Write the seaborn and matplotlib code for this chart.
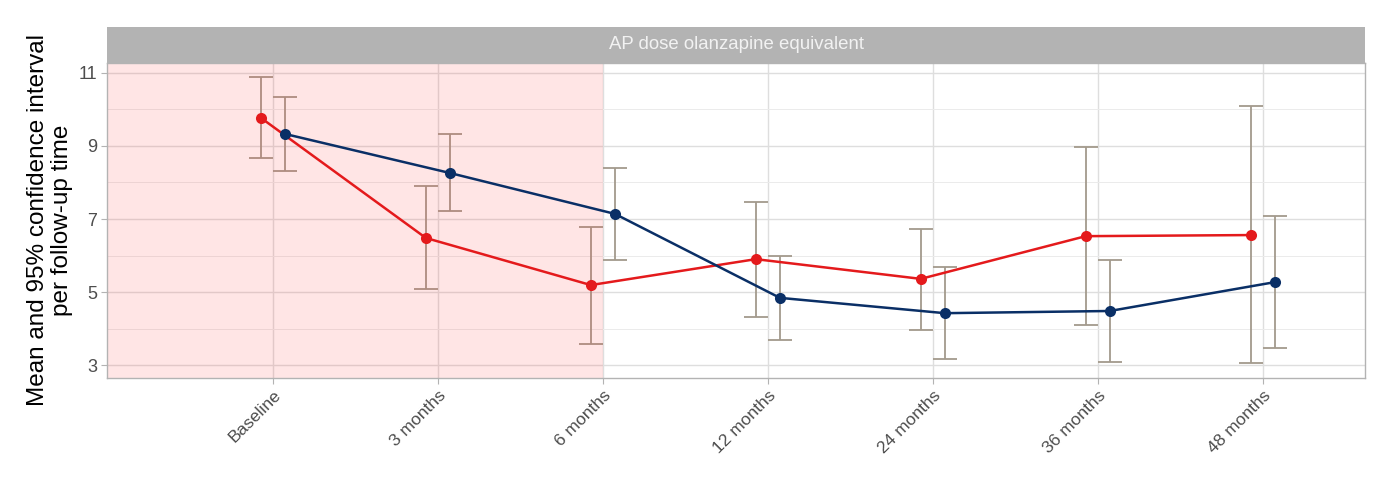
import numpy as np
import pandas as pd
import matplotlib
matplotlib.use("Agg")
import matplotlib.pyplot as plt
import seaborn as sns

# follow-up times
times = ["Baseline", "3 months", "6 months", "12 months", "24 months", "36 months", "48 months"]

# group 1 (red)
red_mean = [9.77, 6.48, 5.19, 5.90, 5.36, 6.53, 6.56]
red_lo = [8.67, 5.08, 3.58, 4.32, 3.96, 4.10, 3.05]
red_hi = [10.89, 7.90, 6.78, 7.47, 6.73, 8.97, 10.10]

# group 2 (navy)
navy_mean = [9.33, 8.26, 7.14, 4.84, 4.42, 4.48, 5.27]
navy_lo = [8.32, 7.22, 5.88, 3.68, 3.16, 3.08, 3.47]
navy_hi = [10.34, 9.33, 8.40, 5.99, 5.68, 5.88, 7.08]

groups = ["Group 1", "Group 2"]
colors = {"Group 1": "#e41a1c", "Group 2": "#0a2f66"}
dodge = {"Group 1": -0.073, "Group 2": 0.073}

rows = []
for g, m, lo, hi in [("Group 1", red_mean, red_lo, red_hi), ("Group 2", navy_mean, navy_lo, navy_hi)]:
    for i, t in enumerate(times):
        rows.append({"time": t, "idx": i, "group": g, "mean": m[i], "lo": lo[i], "hi": hi[i]})
df = pd.DataFrame(rows)
df["xpos"] = df["idx"] + df["group"].map(dodge)

sns.set_theme(style="white")
plt.rcParams["font.family"] = ["Liberation Sans", "DejaVu Sans"]

fig = plt.figure(figsize=(13.99, 4.94), dpi=100)
ax = fig.add_axes([0.0765, 0.2348, 0.8992, 0.6377])

# error bars (under the shaded region)
for g in groups:
    d = df[df["group"] == g]
    ax.errorbar(d["xpos"], d["mean"], yerr=[d["mean"] - d["lo"], d["hi"] - d["mean"]],
                fmt="none", ecolor="#a39a8c", elinewidth=1.3, capsize=8.6, capthick=1.3, zorder=2)

# shaded period up to 6 months
ax.axvspan(-1.1, times.index("6 months"), color="#ff2a2a", alpha=0.12, lw=0, zorder=2.5)

sns.lineplot(data=df, x="xpos", y="mean", hue="group", palette=colors, marker="o",
             markersize=8, markeredgewidth=0, linewidth=1.8, legend=False, ax=ax, zorder=3)

ax.set_xlim(-1.006, 6.62)
ax.set_ylim(2.644, 11.274)
ax.set_xticks(range(len(times)))
ax.set_xticklabels(times, rotation=45, ha="right", rotation_mode="anchor", fontsize=12.5, color="#4d4d4d")
ax.set_yticks([3, 5, 7, 9, 11])
ax.set_yticks([4, 6, 8, 10], minor=True)
ax.tick_params(axis="y", labelsize=13, labelcolor="#4d4d4d")
ax.tick_params(which="major", length=4, width=0.8, color="#b3b3b3", left=True, bottom=True, pad=3)
ax.tick_params(which="minor", length=0)
ax.grid(True, which="major", color="#dedede", linewidth=1.0, zorder=0)
ax.grid(True, which="minor", axis="y", color="#ebebeb", linewidth=0.7, zorder=0)
ax.set_axisbelow(True)
for s in ax.spines.values():
    s.set_color("#b3b3b3")
    s.set_linewidth(1.0)

ax.set_xlabel("")
ax.set_ylabel("Mean and 95% confidence interval\nper follow-up time", fontsize=17.5, color="black",
              linespacing=1.1, labelpad=4)

# facet strip
strip = fig.add_axes([0.0765, 0.8725, 0.8992, 0.0729])
strip.set_facecolor("#b3b3b3")
strip.set_xticks([])
strip.set_yticks([])
for s in strip.spines.values():
    s.set_visible(False)
strip.text(0.5, 0.5, "AP dose olanzapine equivalent", ha="center", va="center",
           fontsize=13.4, color="#f2f2f2", transform=strip.transAxes)

plt.savefig("out.png", dpi=100)
